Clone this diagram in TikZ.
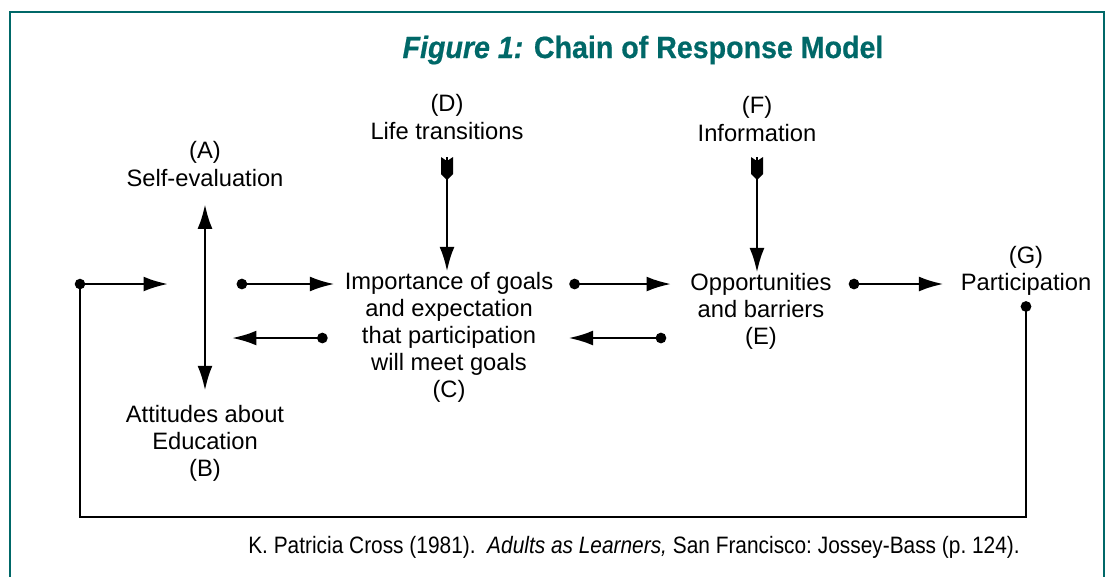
\documentclass[tikz,border=0pt]{standalone}
\usepackage{fontspec}
\setmainfont{Liberation Sans}
\newfontfamily\narrowfont{Liberation Sans}[FakeStretch=0.88]
\newfontfamily\headfont{Liberation Sans}[FakeStretch=0.93, FakeBold=0.6]
\usetikzlibrary{arrows.meta,calc}

\definecolor{headteal}{RGB}{0,104,104}

\tikzset{
    label/.style={font=\fontsize{13.5}{15.4}\selectfont, align=center, inner sep=0pt},
    link/.style={line width=1.5pt, {Circle[length=6pt]}-{Latex[length=14pt,width=8.5pt]}},
    feed/.style={line width=1.5pt, -{Latex[length=14pt,width=8.5pt]}},
    twoway/.style={line width=1.5pt, {Latex[length=14pt,width=8.5pt]}-{Latex[length=14pt,width=8.5pt]}},
}

% draws the feathered tail of an input arrow
\newcommand{\fletch}[1]{\fill (#1) ++(-6,0) -- ++(6,4) -- ++(6,-4) -- ++(0,17) -- ++(-6,6) -- ++(-6,-6) -- cycle;}

\begin{document}
\begin{tikzpicture}[x=0.02cm, y=-0.02cm]
    \useasboundingbox (0,0) rectangle (1108,576);
    \draw[headteal, line width=1.1pt] (10,580) -- (10,12) -- (1104,12) -- (1104,580);

    \node[anchor=base, inner sep=0pt, font=\headfont\fontsize{17.5}{19}\selectfont\bfseries, text=headteal] (title) at (643,58)
        {\itshape Figure 1:\upshape{} Chain of Response Model};

    \node[label] (A) at (205,164) {(A)\\Self-evaluation};
    \node[label] (B) at (205,443) {Attitudes about\\Education\\(B)};
    \node[label] (C) at (449,337) {Importance of goals\\and expectation\\that participation\\will meet goals\\(C)};
    \node[label] (D) at (447,117) {(D)\\Life transitions};
    \node[label] (E) at (761,311) {Opportunities\\and barriers\\(E)};
    \node[label] (F) at (757,119) {(F)\\Information};
    \node[label] (G) at (1026,271) {(G)\\Participation};

    \coordinate (r1) at (0,284);
    \coordinate (r2) at (0,338);
    \coordinate (bot) at (0,517);
    \coordinate (lx) at (80,0);
    \coordinate (dtail) at (447,157);
    \coordinate (ftail) at (757,157);

    % A <-> B
    \draw[twoway, shorten <=10pt, shorten >=8pt] (A.south) -- (B.north);

    % inputs D and F
    \fletch{dtail}
    \fletch{ftail}
    \draw[feed] (dtail) -- (dtail |- C.north);
    \draw[feed] (ftail) -- (ftail |- E.north);

    % forward chain
    \draw[link, shorten <=18pt, shorten >=5.7pt] (A.south |- r1) -- (C.west |- r1);
    \draw[link, shorten <=9pt, shorten >=10.8pt] (C.east |- r1) -- (E.west |- r1);
    \draw[link, shorten <=9.6pt, shorten >=9.6pt] (E.east |- r1) -- (G.west |- r1);

    % feedback
    \draw[link, shorten <=9.6pt, shorten >=15.3pt] (C.west |- r2) -- (A.south |- r2);
    \draw[link, shorten <=13.6pt, shorten >=8.5pt] (E.west |- r2) -- (C.east |- r2);

    % return from participation
    \draw[link, shorten <=3pt, shorten >=21pt] (G.south) -- (G.south |- bot) -- (lx |- bot) -- (lx |- r1) -- (A.south |- r1);
    \fill (lx |- r1) circle (3pt);

    \node[inner sep=0pt, font=\narrowfont\fontsize{13.5}{15}\selectfont\frenchspacing] (src) at (634,547)
        {K. Patricia Cross (1981).~~\textit{Adults as Learners,} San Francisco: Jossey-Bass (p.~124).};
\end{tikzpicture}
\end{document}
